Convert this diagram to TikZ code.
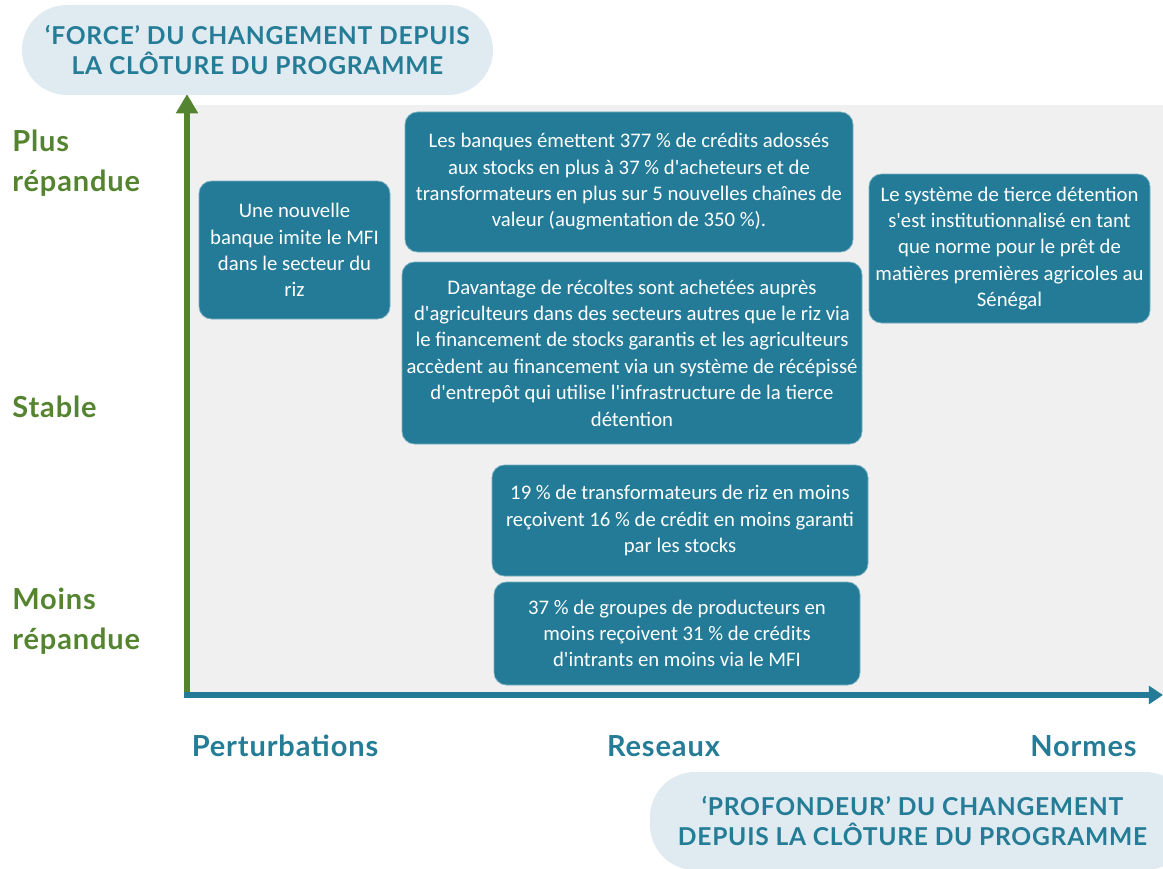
\documentclass[tikz,border=0pt]{standalone}
\usepackage{fontspec}
\setmainfont{Carlito}[Ligatures=TeXOff]
\newfontfamily\headfont{Lato}[LetterSpace=3]
\usetikzlibrary{arrows.meta}
\definecolor{boxblue}{RGB}{35,123,152}
\definecolor{titleblue}{RGB}{36,124,150}
\definecolor{axisgreen}{RGB}{84,132,48}
\definecolor{pillblue}{RGB}{223,234,241}
\definecolor{panelgrey}{RGB}{240,240,240}
\begin{document}
\begin{tikzpicture}[
	box/.style={fill=boxblue, draw=boxblue!60!white, line width=0.4pt, text=white, rounded corners=0.25cm, align=center, inner sep=0pt, font=\fontsize{11.8}{15}\selectfont},
	pill/.style={fill=pillblue, rounded corners=0.9cm, align=center, text=titleblue, font=\headfont\bfseries\fontsize{14}{17.6}\selectfont},
	level/.style={anchor=west, align=left, inner sep=0pt, text=axisgreen, font=\headfont\bfseries\fontsize{16.5}{22.7}\selectfont},
	depth/.style={text=titleblue, font=\headfont\bfseries\fontsize{16.5}{18}\selectfont}
]
\useasboundingbox (0,0) rectangle (23.26,-17.38);
\clip (0,0) rectangle (23.26,-17.38);
\fill[panelgrey] (3.8,-2.1) rectangle (23.26,-13.9);
\coordinate (o) at (3.74,-13.94);
\coordinate (ytop) at (3.74,-1.88);
\coordinate (xstart) at (3.68,-13.9);
\coordinate (xend) at (23.26,-13.9);
\draw[axisgreen, line width=3.4pt, -{Triangle[width=12pt,length=11pt]}] (o) -- (ytop);
\draw[boxblue, line width=3pt, -{Triangle[width=10pt,length=8pt]}] (xstart) -- (xend);

\node[pill, minimum width=9.42cm, minimum height=1.8cm] (force) at (5.15,-1.0) {‘FORCE’ DU CHANGEMENT DEPUIS\\LA CLÔTURE DU PROGRAMME};
\node[pill, minimum width=10.8cm, minimum height=1.96cm] (profondeur) at (18.4,-16.42) {\hspace*{-0.3cm}‘PROFONDEUR’ DU CHANGEMENT\\\hspace*{-0.3cm}DEPUIS LA CLÔTURE DU PROGRAMME};

\node[level] (plus) at (0.24,-3.26) {Plus\\répandue};
\node[level] (stable) at (0.24,-8.14) {Stable};
\node[level] (moins) at (0.24,-12.42) {Moins\\répandue};

\node[depth] (perturb) at (5.7,-14.92) {Perturbations};
\node[depth] (reseaux) at (13.27,-14.92) {Reseaux};
\node[depth] (normes) at (21.67,-14.92) {Normes};

\node[box, minimum width=3.82cm, minimum height=2.76cm] (banque) at (5.89,-5.0) {Une nouvelle\\banque imite le MFI\\dans le secteur du\\riz};
\node[box, minimum width=8.96cm, minimum height=2.8cm] (credits) at (12.58,-3.64) {Les banques émettent 377 \% de crédits adossés\\aux stocks en plus à 37 \% d'acheteurs et de\\transformateurs en plus sur 5 nouvelles chaînes de\\valeur (augmentation de 350 \%).};
\node[box, minimum width=5.62cm, minimum height=2.98cm] (tierce) at (20.19,-4.97) {Le système de tierce détention\\s'est institutionnalisé en tant\\que norme pour le prêt de\\matières premières agricoles au\\Sénégal};
\node[box, minimum width=9.2cm, minimum height=3.64cm] (recoltes) at (12.64,-7.06) {Davantage de récoltes sont achetées auprès\\d'agriculteurs dans des secteurs autres que le riz via\\le financement de stocks garantis et les agriculteurs\\accèdent au financement via un système de récépissé\\d'entrepôt qui utilise l'infrastructure de la tierce\\détention};
\node[box, minimum width=7.52cm, minimum height=2.22cm] (transfo) at (13.6,-10.41) {19 \% de transformateurs de riz en moins\\reçoivent 16 \% de crédit en moins garanti\\par les stocks};
\node[box, minimum width=7.32cm, minimum height=2.06cm] (groupes) at (13.54,-12.67) {37 \% de groupes de producteurs en\\moins reçoivent 31 \% de crédits\\d'intrants en moins via le MFI};
\end{tikzpicture}
\end{document}
